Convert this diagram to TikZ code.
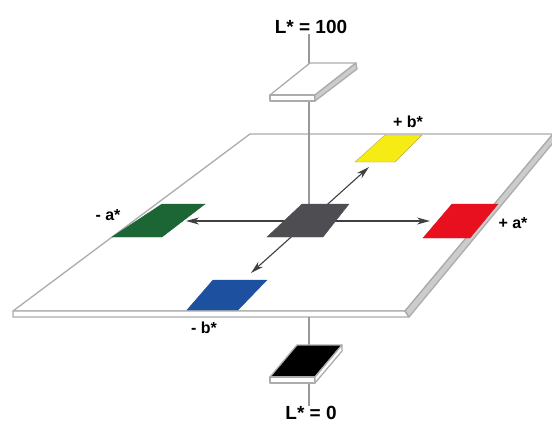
\documentclass[tikz,border=0pt]{standalone}
\usepackage{fontspec}
\setmainfont{Liberation Sans}
\usetikzlibrary{arrows.meta}
\definecolor{patchgreen}{RGB}{27,102,52}
\definecolor{patchgray}{RGB}{78,77,82}
\definecolor{patchyellow}{RGB}{246,236,20}
\definecolor{patchred}{RGB}{232,16,30}
\definecolor{patchblue}{RGB}{30,80,160}
\tikzset{lbl/.style={inner sep=0pt, font=\bfseries\fontsize{16}{16}\selectfont},
  Llbl/.style={lbl, font=\bfseries\fontsize{19}{19}\selectfont},
  edge/.style={draw=gray!65, line width=1.3pt, line join=round},
  band/.style={edge, fill=gray!40}}

\begin{document}
\begin{tikzpicture}[x=1pt, y=-1pt, >={Stealth[length=13pt,width=7pt]},
  axis/.style={draw=black!75, line width=1.1pt}]
  \useasboundingbox (0,0) rectangle (552,423);
  % ab plane with its thickness
  \draw[edge, fill=white] (250,134) -- (553,134) -- (405,311) -- (13,311) -- cycle;
  \draw[edge, fill=white] (13,311) -- (405,311) -- (409,317) -- (13,317) -- cycle;
  \draw[band] (405,311) -- (553,134) -- (557,138) -- (409,317) -- cycle;
  % axis ends
  \coordinate (o)  at (309,221);
  \coordinate (am) at (186,221);
  \coordinate (ap) at (430,221);
  \coordinate (bp) at (369,167);
  \coordinate (bm) at (251,273);
  \coordinate (lo) at (309,317);
  % labels
  \node[Llbl] (lhi) at (311,27)  {L* = 100};
  \node[Llbl] (llo) at (311,413) {L* = 0};
  \node[lbl]  (bpl) at (408,122) {+ b*};
  \node[lbl]  (aml) at (108,215) {- a*};
  \node[lbl]  (apl) at (513,223) {+ a*};
  \node[lbl]  (bml) at (204,328) {- b*};
  % L axis
  \draw[axis, draw=gray!80] (lhi.south -| o) -- (o);
  \draw[axis, draw=gray!80] (lo) -- (llo.north -| lo);
  % a and b axes
  \draw[axis, ->] (o) -- (am);
  \draw[axis, ->] (o) -- (ap);
  \draw[axis, ->] (o) -- (bp);
  \draw[axis, ->] (o) -- (bm);
  % colour patches
  \filldraw[patchgray]   (302,204) -- (349,204) -- (323,237) -- (267,237) -- cycle;
  \filldraw[patchgreen]  (162,204) -- (205,204) -- (162,237) -- (112,237) -- cycle;
  \filldraw[patchred]    (452,204) -- (498,204) -- (470,238) -- (423,238) -- cycle;
  \filldraw[patchyellow, draw=gray!60!patchyellow]
    (385,135) -- (422,135) -- (395,162) -- (355,162) -- cycle;
  \filldraw[patchblue]   (213,280) -- (267,280) -- (238,310) -- (187,310) -- cycle;
  % white patch, L* = 100
  \draw[edge, fill=white] (310,63) -- (356,63) -- (315,95) -- (270,95) -- cycle;
  \draw[edge, fill=white] (270,95) -- (315,95) -- (315,101) -- (270,101) -- cycle;
  \draw[band] (315,95) -- (356,63) -- (357,69) -- (315,101) -- cycle;
  % black patch, L* = 0
  \draw[edge, fill=black] (297,345) -- (342,345) -- (315,377) -- (270,377) -- cycle;
  \draw[edge, fill=white] (270,377) -- (315,377) -- (315,383) -- (270,383) -- cycle;
  \draw[edge, fill=white] (315,377) -- (342,345) -- (342,351) -- (315,383) -- cycle;
\end{tikzpicture}
\end{document}
